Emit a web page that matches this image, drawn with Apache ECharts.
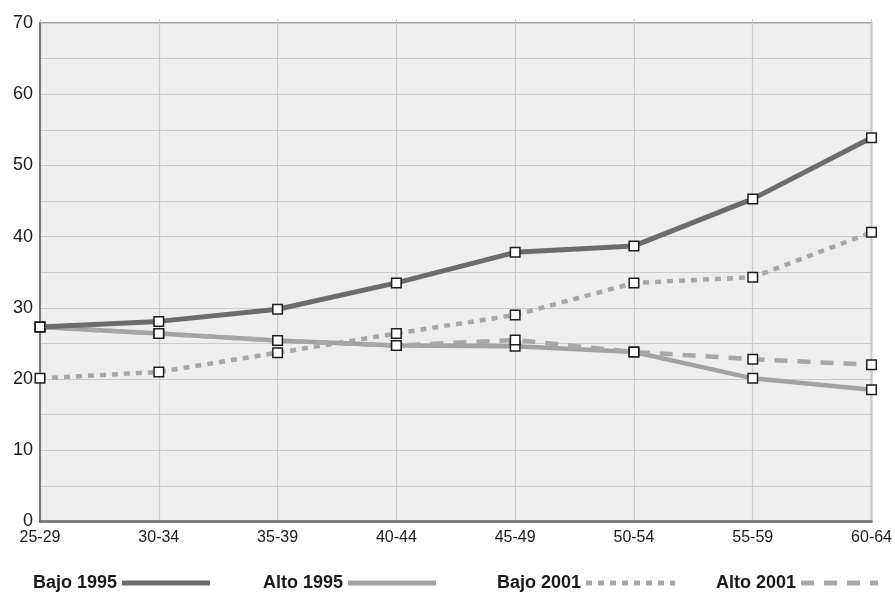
<!DOCTYPE html>
<html>
<head>
<meta charset="utf-8">
<script src="https://cdn.jsdelivr.net/npm/echarts@6/dist/echarts.min.js"></script>
<style>
html,body{margin:0;padding:0;background:#fff;}
#c{width:895px;height:592px;}
</style>
</head>
<body>
<div id="c"></div>
<script>
const categories = ['25-29','30-34','35-39','40-44','45-49','50-54','55-59','60-64'];
const bajo1995 = [27.3, 28.1, 29.8, 33.5, 37.8, 38.7, 45.3, 53.9];
const alto1995 = [27.3, 26.4, 25.4, 24.7, 24.6, 23.8, 20.1, 18.5];
const bajo2001 = [20.1, 21.0, 23.7, 26.4, 29.0, 33.5, 34.3, 40.6];
const alto2001 = [27.3, 26.4, 25.4, 24.7, 25.5, 23.8, 22.8, 22.0];
const seriesNames = ['Bajo 1995', 'Alto 1995', 'Bajo 2001', 'Alto 2001'];
const yTicks = [0, 10, 20, 30, 40, 50, 60, 70];

function hasFont(name){
  const c = document.createElement('canvas').getContext('2d');
  const t = '70 25-29 Bajo';
  c.font = '40px monospace';
  const a = c.measureText(t).width;
  c.font = '40px "' + name + '", monospace';
  const b = c.measureText(t).width;
  return Math.abs(a - b) > 0.5;
}
const narrow = hasFont('Liberation Sans Narrow');
const yLabelFont = narrow ? {fontFamily:'"Liberation Sans Narrow"', fontSize:22} : {fontFamily:'"Liberation Sans", Arial', fontSize:18};

const chart = echarts.init(document.getElementById('c'), null, {renderer:'canvas'});

const marker = {color:'#ffffff', borderColor:'#1e1e1e', borderWidth:1.5};
function mkSeries(name, data, color, width, type, z){
  return {
    name: name, type: 'line', data: data,
    symbol: 'rect', symbolSize: 9.5,
    lineStyle: {color: color, width: width, type: type, cap: 'butt'},
    itemStyle: Object.assign({}, marker),
    emphasis: {disabled: true},
    z: z
  };
}
const legendLefts = [33, 263, 497, 716];
const legendWidths = [88, 88, 89, 77];
function mkLegend(i){
  return {
    data: [seriesNames[i]],
    left: legendLefts[i], top: 574,
    align: 'right', padding: 0,
    itemWidth: legendWidths[i], itemHeight: 2,
    selectedMode: false,
    textStyle: {fontFamily:'"Liberation Sans", Arial', fontSize:18, fontWeight:'bold', color:'#1a1a1a'},
    itemStyle: {opacity: 0, borderWidth: 0},
    lineStyle: {width: 5}
  };
}

const option = {
  animation: false,
  backgroundColor: '#ffffff',
  grid: {left: 40, right: 21, top: 23, bottom: 70.5, show: true, backgroundColor: '#eeeeee', borderColor: '#8c8c8c', borderWidth: 1.5, containLabel: false},
  legend: [mkLegend(0), mkLegend(1), mkLegend(2), mkLegend(3)],
  xAxis: [{
    type: 'category', data: categories, boundaryGap: false,
    axisLine: {show: true, lineStyle: {color: '#6e6e6e', width: 2.5}},
    axisTick: {show: false},
    axisLabel: {margin: 8, fontFamily:'"Liberation Sans", Arial', fontSize: 16, color: '#1a1a1a', interval: 0},
    splitLine: {show: true, lineStyle: {color: '#cbcbcb', width: 1.2}}
  },{
    type: 'category', data: categories, boundaryGap: false, position: 'top',
    axisLine: {show: false},
    axisTick: {show: true, length: 4, lineStyle: {color: '#cbcbcb', width: 1.2}},
    axisLabel: {show: false},
    splitLine: {show: false}
  }],
  yAxis: {
    type: 'value', min: yTicks[0], max: yTicks[yTicks.length-1], interval: 10,
    axisLine: {show: true, lineStyle: {color: '#777777', width: 2}},
    axisTick: {show: false},
    axisLabel: Object.assign({margin: 7, color: '#1a1a1a'}, yLabelFont),
    splitLine: {show: true, lineStyle: {color: '#cbcbcb', width: 1.2}},
    minorTick: {show: false, splitNumber: 2},
    minorSplitLine: {show: true, lineStyle: {color: '#cbcbcb', width: 1.2}}
  },
  series: [
    mkSeries(seriesNames[0], bajo1995, '#6c6c6c', 5, 'solid', 3),
    mkSeries(seriesNames[1], alto1995, '#a2a2a2', 4.5, 'solid', 2),
    mkSeries(seriesNames[2], bajo2001, '#a6a6a6', 4.5, [6, 6], 2),
    mkSeries(seriesNames[3], alto2001, '#a8a8a8', 4.5, [13, 10], 2)
  ]
};
chart.setOption(option);
</script>
</body>
</html>
